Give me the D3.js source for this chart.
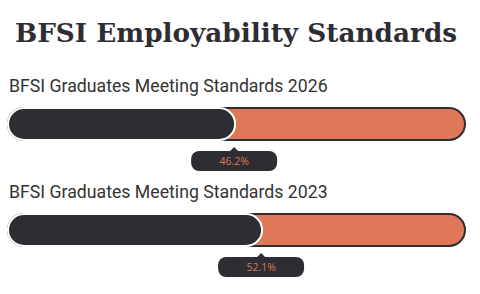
<!DOCTYPE html>
<html>
<head>
<meta charset="utf-8">
<script src="https://cdn.jsdelivr.net/npm/d3@7"></script>
<style>
  body { margin: 0; background: #fff; }
</style>
</head>
<body>
<svg id="chart"></svg>
<script>
// chart data
const labels = ["BFSI Graduates Meeting Standards 2026", "BFSI Graduates Meeting Standards 2023"];
const values = [46.2, 52.1];
const title = "BFSI Employability Standards";

const width = 480, height = 294;
const dark = "#2e2d33", orange = "#df7859";

const svg = d3.select("#chart")
    .attr("width", width)
    .attr("height", height);

svg.append("text")
    .attr("x", 236)
    .attr("y", 42)
    .attr("text-anchor", "middle")
    .attr("font-family", "DejaVu Serif, serif")
    .attr("font-weight", "bold")
    .attr("font-size", 26.3)
    .attr("fill", dark)
    .text(title);

// bar geometry
const barH = 32, r = barH / 2;
const x = d3.scaleLinear().domain([0, 100]).range([8, 465]);
const y = d3.scaleBand().domain(labels).range([78, 290]);

const rows = svg.selectAll("g.row")
    .data(labels.map((l, i) => ({ label: l, value: values[i] })))
    .enter()
    .append("g")
    .attr("class", "row")
    .attr("transform", d => `translate(0, ${y(d.label)})`);

rows.append("text")
    .attr("x", 9)
    .attr("y", 14)
    .attr("font-family", "Roboto, sans-serif")
    .attr("font-size", 17.7)
    .attr("fill", "#333")
    .text(d => d.label);

// full bar
rows.append("rect")
    .attr("x", x(0))
    .attr("y", 30)
    .attr("width", x(100) - x(0))
    .attr("height", barH)
    .attr("rx", r)
    .attr("fill", orange)
    .attr("stroke", dark)
    .attr("stroke-width", 2);

// value bar
rows.append("rect")
    .attr("x", x(0))
    .attr("y", 30)
    .attr("width", d => x(d.value) - x(0) + r)
    .attr("height", barH)
    .attr("rx", r)
    .attr("fill", dark)
    .attr("stroke", "#fff")
    .attr("stroke-width", 2);

// tooltip
const tip = rows.append("g")
    .attr("transform", d => `translate(${x(d.value) + r - 1}, 73)`);

tip.append("path")
    .attr("d", "M-4,0 L0,-4 L4,0 Z")
    .attr("fill", dark);

tip.append("rect")
    .attr("x", -43)
    .attr("y", 0)
    .attr("width", 86)
    .attr("height", 20)
    .attr("rx", 8)
    .attr("fill", dark);

tip.append("text")
    .attr("y", 14)
    .attr("text-anchor", "middle")
    .attr("font-family", "Open Sans, sans-serif")
    .attr("font-size", 10.5)
    .attr("fill", orange)
    .text(d => d.value + "%");
</script>
</body>
</html>
